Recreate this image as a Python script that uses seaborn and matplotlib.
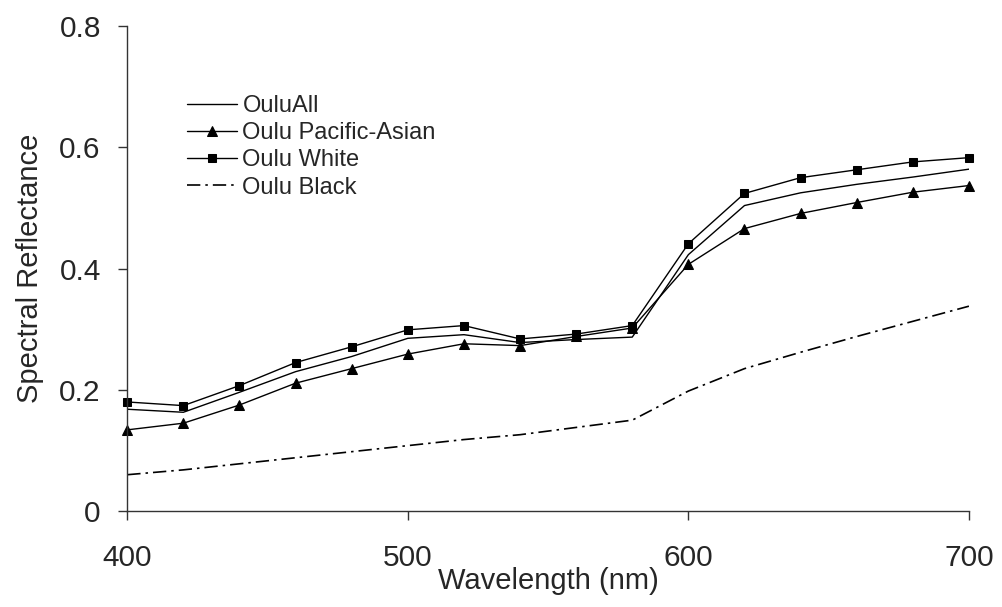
import numpy as np
import pandas as pd
from matplotlib import pyplot as plt
from matplotlib.ticker import FuncFormatter
import seaborn as sns

# Spectral reflectance readings, every 20 nm
wavelength = [400, 420, 440, 460, 480, 500, 520, 540, 560, 580, 600, 620, 640, 660, 680, 700]
oulu_all = [0.168, 0.163, 0.196, 0.230, 0.255, 0.285, 0.291, 0.278, 0.283, 0.287, 0.423, 0.504, 0.525, 0.539, 0.551, 0.564]
oulu_pacific = [0.134, 0.145, 0.175, 0.211, 0.235, 0.259, 0.276, 0.273, 0.288, 0.302, 0.407, 0.466, 0.491, 0.509, 0.526, 0.537]
oulu_white = [0.180, 0.174, 0.207, 0.245, 0.271, 0.299, 0.306, 0.284, 0.292, 0.306, 0.441, 0.524, 0.550, 0.563, 0.576, 0.583]
oulu_black = [0.060, 0.068, 0.078, 0.088, 0.098, 0.108, 0.118, 0.126, 0.138, 0.150, 0.198, 0.235, 0.262, 0.288, 0.313, 0.338]

sns.set_style("ticks")
plt.rcParams['font.family'] = ['Liberation Sans', 'DejaVu Sans']

fig = plt.figure(figsize=(10.02, 6.07), dpi=100)
ax = fig.add_axes([0.127, 0.158, 0.840, 0.799])

df = pd.DataFrame({'wl': wavelength, 'all': oulu_all, 'pac': oulu_pacific,
                   'white': oulu_white, 'black': oulu_black})

sns.lineplot(data=df, x='wl', y='all', color='black', linewidth=1, label='OuluAll', ax=ax)
sns.lineplot(data=df, x='wl', y='pac', color='black', linewidth=1, marker='^', markersize=7,
             markeredgecolor='black', clip_on=False, label='Oulu Pacific-Asian', ax=ax)
sns.lineplot(data=df, x='wl', y='white', color='black', linewidth=1, marker='s', markersize=6,
             markeredgecolor='black', clip_on=False, label='Oulu White', ax=ax)
sns.lineplot(data=df, x='wl', y='black', color='black', linewidth=1.2, linestyle=(0, (8, 3, 1.5, 3)),
             label='Oulu Black', ax=ax)

ax.set_xlim(400, 700)
ax.set_ylim(0, 0.8)
ax.set_xticks([400, 500, 600, 700])
ax.set_yticks([0, 0.2, 0.4, 0.6, 0.8])
ax.yaxis.set_major_formatter(FuncFormatter(lambda v, p: '0' if v == 0 else f'{v:.1f}'))
ax.tick_params(axis='both', labelsize=21.5, length=6.5, width=1, color='#333333', pad=12.5)
ax.tick_params(axis='x', pad=17)

sns.despine(ax=ax)
for s in ['left', 'bottom']:
    ax.spines[s].set_color('#333333')
    ax.spines[s].set_linewidth(1)

ax.set_xlabel('Wavelength (nm)', fontsize=21)
ax.xaxis.set_label_coords(0.5, -0.145)
ax.xaxis.label.set_va('center')
ax.set_ylabel('Spectral Reflectance', fontsize=21)
ax.yaxis.set_label_coords(-0.115, 0.5)
ax.yaxis.label.set_va('center')

ax.legend(loc='upper left', bbox_to_anchor=(0.071, 0.858), frameon=False, fontsize=17,
          handlelength=2.1, handletextpad=0.25, labelspacing=0.22, borderpad=0, borderaxespad=0)

fig.savefig('out.png', dpi=100)
